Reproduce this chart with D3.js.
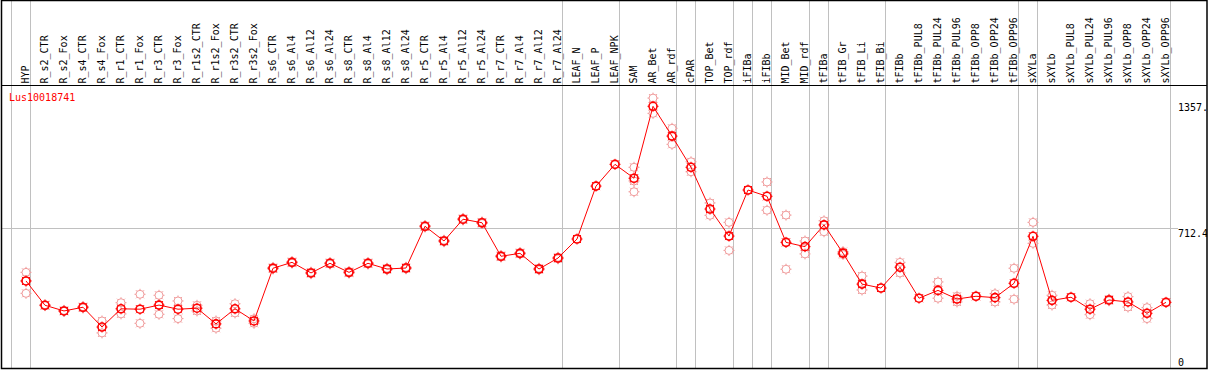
<!DOCTYPE html>
<html>
<head>
<meta charset="utf-8">
<script src="https://cdn.jsdelivr.net/npm/d3@7"></script>
<style>
  body { margin: 0; background: #fff; }
  svg { display: block; }
  text { font-family: "DejaVu Sans Mono", monospace; font-size: 10px; }
</style>
</head>
<body>
<svg width="1209" height="370"></svg>
<script>
var title = "Lus10018741";

var samples = ["HYP","R_s2_CTR","R_s2_Fox","R_s4_CTR","R_s4_Fox","R_r1_CTR","R_r1_Fox","R_r3_CTR","R_r3_Fox",
  "R_r1s2_CTR","R_r1s2_Fox","R_r3s2_CTR","R_r3s2_Fox","R_s6_CTR","R_s6_Al4","R_s6_Al12","R_s6_Al24",
  "R_s8_CTR","R_s8_Al4","R_s8_Al12","R_s8_Al24","R_r5_CTR","R_r5_Al4","R_r5_Al12","R_r5_Al24",
  "R_r7_CTR","R_r7_Al4","R_r7_Al12","R_r7_Al24","LEAF_N","LEAF_P","LEAF_NPK","SAM","AR_Bet","AR_rdf",
  "cPAR","TOP_Bet","TOP_rdf","iFIBa","iFIBb","MID_Bet","MID_rdf","tFIBa","tFIB_Gr","tFIB_Li","tFIB_Bi",
  "tFIBb","tFIBb_PUL8","tFIBb_PUL24","tFIBb_PUL96","tFIBb_OPP8","tFIBb_OPP24","tFIBb_OPP96",
  "sXYLa","sXYLb","sXYLb_PUL8","sXYLb_PUL24","sXYLb_PUL96","sXYLb_OPP8","sXYLb_OPP24","sXYLb_OPP96"];

// mean expression per sample
var means = [444,320,291,310,209,302,300,321,300,305,225,302,240,509,539,485,534,488,534,505,510,
  723,648,759,741,570,585,505,561,658,928,1039,968,1335,1183,1024,811,673,908,876,641,619,730,586,
  428,408,514,356,396,352,366,359,432,672,345,361,300,347,337,279,335];

// individual replicates (null = hidden under the mean marker)
var repHigh = [488,323,294,313,240,333,376,371,342,320,240,328,251,513,543,489,538,492,538,509,514,
  727,652,763,745,574,589,509,565,null,null,null,1024,1377,1223,1052,842,743,null,949,780,648,751,594,
  469,null,539,null,439,366,null,379,509,743,371,null,328,351,364,308,null];
var repLow = [381,318,289,306,179,276,228,274,252,291,203,281,228,505,535,481,530,484,530,501,506,
  719,644,755,737,566,581,501,557,null,null,null,899,1299,1141,1001,779,600,null,805,504,582,695,579,
  398,null,485,null,356,337,null,337,351,636,321,null,272,343,311,252,null];
var repMid = [444,null,null,null,null,null,null,null,null,null,null,null,null,null,null,null,null,null,null,null,null,
  null,null,null,null,null,null,null,null,null,null,null,954,null,null,null,null,null,null,null,null,null,null,null,
  null,null,null,null,null,null,null,null,null,null,null,null,null,null,null,null,null];

// group separators drawn before these samples
var groupStarts = ["HYP","R_s2_CTR","LEAF_N","SAM","cPAR","TOP_Bet","iFIBa","iFIBb","MID_Bet",
  "tFIBa","tFIB_Gr","tFIBb","sXYLa","sXYLb"];

var yTicks = [0, 712.4, 1357];
var yTickLabels = ["0", "712.4", "1357."];
var yGrid = [712.4];

var svg = d3.select("svg"),
    width = +svg.attr("width"),
    height = +svg.attr("height");

var fLeft = 1, fRight = 1207, fTop = 0, headerBottom = 85, fBottom = 368;
var step = 19;

var x = d3.scalePoint().domain(samples).range([26, 1166]);
var y = d3.scaleLinear().domain([0, 1357]).range([fBottom, 102]);

svg.append("defs").append("clipPath").attr("id", "frame")
  .append("rect").attr("x", fLeft).attr("y", fTop).attr("width", fRight - fLeft).attr("height", fBottom - fTop);

var g = svg.append("g").attr("clip-path", "url(#frame)");

// vertical group separators
var sepX = groupStarts.map(function(s) { return x(s) - 15; });
sepX.push(x(samples[samples.length - 1]) + step - 15);
g.selectAll("line.sep")
  .data(sepX)
  .enter().append("line")
    .attr("class", "sep")
    .attr("x1", function(d) { return d + 0.5; })
    .attr("x2", function(d) { return d + 0.5; })
    .attr("y1", fTop)
    .attr("y2", fBottom)
    .attr("stroke", "#c0c0c0")
    .attr("stroke-width", 1);

// horizontal grid at the reference level
g.selectAll("line.grid")
  .data(yGrid)
  .enter().append("line")
    .attr("x1", fLeft)
    .attr("x2", 1178)
    .attr("y1", function(d) { return Math.round(y(d)) + 0.5; })
    .attr("y2", function(d) { return Math.round(y(d)) + 0.5; })
    .attr("stroke", "#c0c0c0");

// header line
svg.append("line")
  .attr("x1", fLeft).attr("x2", fRight)
  .attr("y1", headerBottom + 0.5).attr("y2", headerBottom + 0.5)
  .attr("stroke", "#000");

// sample labels
svg.selectAll("text.lab")
  .data(samples)
  .enter().append("text")
    .attr("class", "lab")
    .attr("transform", function(d) { return "translate(" + (x(d) + 2.5) + ",83.5) rotate(-90)"; })
    .attr("fill", "#000")
    .text(function(d) { return d; });

// y labels on the right
g.selectAll("text.ytick")
  .data(yTicks)
  .enter().append("text")
    .attr("class", "ytick")
    .attr("x", 1178)
    .attr("y", function(d) { return Math.min(y(d) + 8.5, 366); })
    .attr("fill", "#000")
    .text(function(d, i) { return yTickLabels[i]; });

// title
svg.append("text")
  .attr("x", 9)
  .attr("y", 100.5)
  .attr("fill", "red")
  .text(title);

function marker(sel, color, sw) {
  sel.append("circle")
    .attr("r", 4)
    .attr("fill", "none")
    .attr("stroke", color)
    .attr("stroke-width", sw);
  sel.append("path")
    .attr("d", "M0,-4V-5.5M0,4V5.5M-4,0H-5.5M4,0H5.5M-3,-3L-4,-4M3,-3L4,-4M-3,3L-4,4M3,3L4,4")
    .attr("stroke", color)
    .attr("stroke-width", 1);
}

// replicates
var reps = [];
samples.forEach(function(s, i) {
  [repHigh[i], repLow[i], repMid[i]].forEach(function(v) {
    if (v != null) reps.push({ s: s, v: v });
  });
});
var repG = g.selectAll("g.rep")
  .data(reps)
  .enter().append("g")
    .attr("class", "rep")
    .attr("transform", function(d) { return "translate(" + x(d.s) + "," + y(d.v) + ")"; });
marker(repG, "#f09a9a", 1);

// mean line
var line = d3.line()
  .x(function(d, i) { return x(samples[i]); })
  .y(function(d) { return y(d); });
g.append("path")
  .datum(means)
  .attr("d", line)
  .attr("fill", "none")
  .attr("stroke", "red")
  .attr("stroke-width", 1);

var meanG = g.selectAll("g.mean")
  .data(means)
  .enter().append("g")
    .attr("class", "mean")
    .attr("transform", function(d, i) { return "translate(" + x(samples[i]) + "," + y(d) + ")"; });
marker(meanG, "red", 1.6);

// frame
svg.append("rect")
  .attr("x", fLeft + 0.5).attr("y", fTop + 0.5)
  .attr("width", fRight - fLeft - 0.5).attr("height", fBottom - fTop)
  .attr("fill", "none")
  .attr("stroke", "#000")
  .attr("stroke-width", 1.5);
</script>
</body>
</html>
